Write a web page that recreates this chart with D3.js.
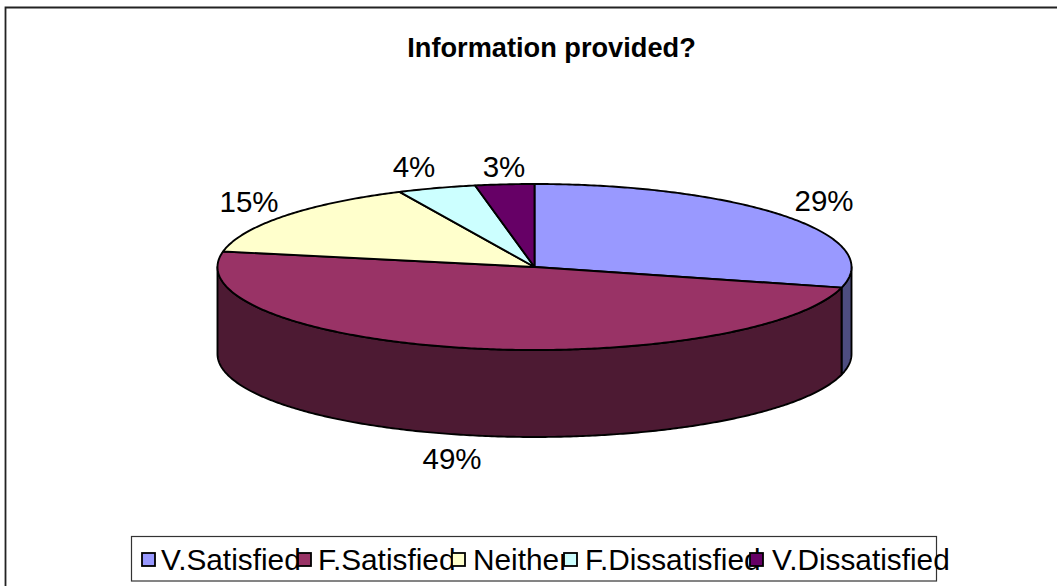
<!DOCTYPE html>
<html><head><meta charset="utf-8">
<script src="https://cdn.jsdelivr.net/npm/d3@7/dist/d3.min.js"></script>
<style>html,body{margin:0;padding:0;background:#fff;overflow:hidden}svg{display:block}text{font-family:"Liberation Sans",Arial,sans-serif;fill:#000}</style>
</head><body><svg id="c" width="1057" height="586"></svg>
<script>
const categories=["V.Satisfied","F.Satisfied","Neither","F.Dissatisfied","V.Dissatisfied"];
const values=[29,49,15,4,3];
const topColors=["#9999ff","#993366","#ffffcc","#ccffff","#660066"];
const sideColors=["#4d4d80","#4d1a33","#80805f","#668080","#330033"];
const title="Information provided?";
const svg=d3.select("#c");
const cx=534.5,cy=267,rx=317,ry=83,depth=87;
const sx=d3.scaleLinear().domain([-1,1]).range([cx-rx,cx+rx]);
const sy=d3.scaleLinear().domain([-1,1]).range([cy-ry,cy+ry]);
const pie=d3.pie().sort(null).value(d=>d);
const arcs=pie(values);
const px=a=>sx(Math.sin(a)),py=a=>sy(-Math.cos(a));
function samples(a0,a1){const n=Math.max(2,Math.ceil((a1-a0)/0.01));return d3.range(n+1).map(i=>a0+(a1-a0)*i/n);}
const line=d3.line();
const sw=1.9;
// chart frame: top and left edges only, as the reference is cropped on the other two
svg.append("path").attr("d","M5.5,586V7.5H1057").attr("fill","none").attr("stroke","#222").attr("stroke-width",1.8);
svg.append("text").attr("x",551.5).attr("y",57).attr("text-anchor","middle").attr("font-size",27.2).attr("font-weight","bold").text(title);
// side walls: front half of the rim only
arcs.forEach((d,i)=>{
  const a0=Math.max(d.startAngle,Math.PI/2),a1=Math.min(d.endAngle,Math.PI*1.5);
  if(a1<=a0) return;
  const s=samples(a0,a1);
  const top=s.map(a=>[px(a),py(a)]);
  const bot=s.slice().reverse().map(a=>[px(a),py(a)+depth]);
  svg.append("path").attr("d",line(top.concat(bot))+"Z").attr("fill",sideColors[i]).attr("stroke","#000").attr("stroke-width",sw).attr("stroke-linejoin","round");
});
// top faces
arcs.forEach((d,i)=>{
  const pts=[[sx(0),sy(0)]].concat(samples(d.startAngle,d.endAngle).map(a=>[px(a),py(a)]));
  svg.append("path").attr("d",line(pts)+"Z").attr("fill",topColors[i]).attr("stroke","#000").attr("stroke-width",sw).attr("stroke-linejoin","round");
});
// percent labels
const labelPos=[[824,211],[452,469],[249,212],[414,177],[504,177]];
arcs.forEach((d,i)=>{
  svg.append("text").attr("x",labelPos[i][0]).attr("y",labelPos[i][1]).attr("text-anchor","middle").attr("font-size",29.5).text(d.data+"%");
});
// legend: swatches are painted over the text, as in the reference
const lg=svg.append("g");
lg.append("rect").attr("x",131.5).attr("y",536.5).attr("width",805).attr("height",44.5).attr("fill","#fff").attr("stroke","#333").attr("stroke-width",1.2);
const swX=[141,297,451,563,749],txX=[161,318,473,585,772];
categories.forEach((c,i)=>{
  lg.append("text").attr("x",txX[i]).attr("y",570).attr("font-size",29.8).text(c);
});
categories.forEach((c,i)=>{
  lg.append("rect").attr("x",swX[i]+1).attr("y",553).attr("width",13).attr("height",13).attr("fill",topColors[i]).attr("stroke","#000").attr("stroke-width",1.8);
});
</script></body></html>
